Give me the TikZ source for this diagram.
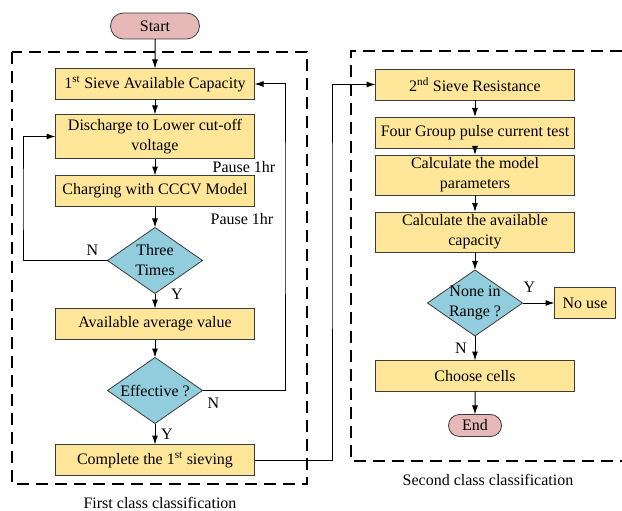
\documentclass[tikz,border=0pt]{standalone}
\usepackage{fontspec}
\setmainfont{Liberation Serif}
\usetikzlibrary{positioning,shapes.geometric,shapes.misc,arrows.meta}
\definecolor{stepclr}{RGB}{255,230,153}
\definecolor{testclr}{RGB}{146,205,221}
\definecolor{termclr}{RGB}{230,185,184}
\definecolor{edgeclr}{RGB}{60,60,60}
\tikzset{ %
  ,>={Latex[length=9pt,width=6pt]}
  ,every node/.style={font=\fontsize{16}{20}\selectfont}
  ,stepbox/.style={draw=edgeclr, line width=0.8pt, fill=stepclr, minimum width=199pt, minimum height=31pt, inner sep=1pt, outer sep=0pt, align=center}
  ,testbox/.style={draw=edgeclr, line width=0.8pt, diamond, aspect=1.44, fill=testclr, minimum width=95pt, minimum height=66pt, inner sep=-9pt, outer sep=0pt, align=center}
  ,termbox/.style={draw=edgeclr, line width=0.8pt, rounded rectangle, fill=termclr, inner sep=0pt, outer sep=0pt}
  ,lbl/.style={inner sep=0pt}
  ,frame/.style={line width=1.8pt, dash pattern=on 12pt off 7pt}
  ,flow/.style={->, line width=1pt}
}

\begin{document}
\begin{tikzpicture}[x=1pt, y=-1pt]
    \useasboundingbox (0,0) rectangle (622,511);

    % first class
    \draw[frame] (12,52) rectangle (307,484);
    \node[termbox, minimum width=89pt, minimum height=26pt] (start) at (155,26) {Start};
    \node[stepbox, below=29.5pt of start] (cap1) {1\textsuperscript{st} Sieve Available Capacity};
    \node[stepbox, minimum height=44pt, below=15pt of cap1] (dis) {Discharge to Lower cut-off\\voltage};
    \node[stepbox, below=17pt of dis] (chg) {Charging with CCCV Model};
    \node[testbox, below=21pt of chg] (three) {Three\\Times};
    \node[stepbox, below=15pt of three] (avg) {Available average value};
    \node[testbox, below=18pt of avg] (eff) {Effective ?};
    \node[stepbox, below=21pt of eff] (done) {Complete the 1\textsuperscript{st} sieving};
    \node[lbl, anchor=north east] (p1) at ([xshift=21pt, yshift=-3pt]dis.south east) {Pause 1hr};
    \node[lbl, anchor=north east] (p2) at ([xshift=19pt, yshift=-7pt]chg.south east) {Pause 1hr};
    \node[lbl, anchor=south east] (n1) at ([xshift=-9pt, yshift=5pt]three.west) {N};
    \node[lbl, anchor=west] (y1) at ([xshift=16pt, yshift=-1pt]three.south) {Y};
    \node[lbl, anchor=north west] (n2) at ([xshift=5pt, yshift=-7pt]eff.east) {N};
    \node[lbl, anchor=west] (y2) at ([xshift=6pt, yshift=-11pt]eff.south) {Y};
    \node (cap1txt) at (160,503) {First class classification};
    \coordinate (loopL) at (23,200);
    \coordinate (loopR) at (285,200);
    \coordinate (link) at (332,200);

    % second class
    \draw[frame] (622,51) -- (351,51) -- (351,461) -- (622,461);
    \node[stepbox] (res) at (475,84.5) {2\textsuperscript{nd} Sieve Resistance};
    \node[stepbox, below=17pt of res] (pulse) {Four Group pulse current test};
    \node[stepbox, minimum height=40pt, below=7pt of pulse] (para) {Calculate the model\\parameters};
    \node[stepbox, minimum height=40pt, below=17pt of para] (avail) {Calculate the available\\capacity};
    \node[testbox, below=18pt of avail] (none) {None in\\Range ?};
    \node[stepbox, minimum width=61pt, right=32pt of none] (nouse) {No use};
    \node[stepbox, below=24.5pt of none] (cells) {Choose cells};
    \node[termbox, minimum width=53pt, minimum height=22pt, below=23pt of cells] (end) {End};
    \node[lbl, anchor=south] (y3) at ([xshift=7pt, yshift=10pt]none.east) {Y};
    \node[lbl, anchor=east] (n3) at ([xshift=-8pt, yshift=-12pt]none.south) {N};
    \node (cap2txt) at (488,480) {Second class classification};

    % connectors
    \draw[flow] (start) -- (cap1);
    \draw[flow] (cap1) -- (dis);
    \draw[flow] (dis) -- (chg);
    \draw[flow] (chg) -- (three);
    \draw[flow] (three) -- (avg);
    \draw[flow] (three.west) -| (loopL) |- (dis.west);
    \draw[flow] (avg) -- (eff);
    \draw[flow] (eff) -- (done);
    \draw[flow] (eff.east) -| (loopR) |- (cap1.east);
    \draw[flow] (done.east) -| (link) |- (res.west);
    \draw[flow] (res) -- (pulse);
    \draw[flow] (pulse) -- (para);
    \draw[flow] (para) -- (avail);
    \draw[flow] (avail) -- (none);
    \draw[flow] (none) -- (nouse);
    \draw[flow] (none) -- (cells);
    \draw[flow] (cells) -- (end);
\end{tikzpicture}
\end{document}
